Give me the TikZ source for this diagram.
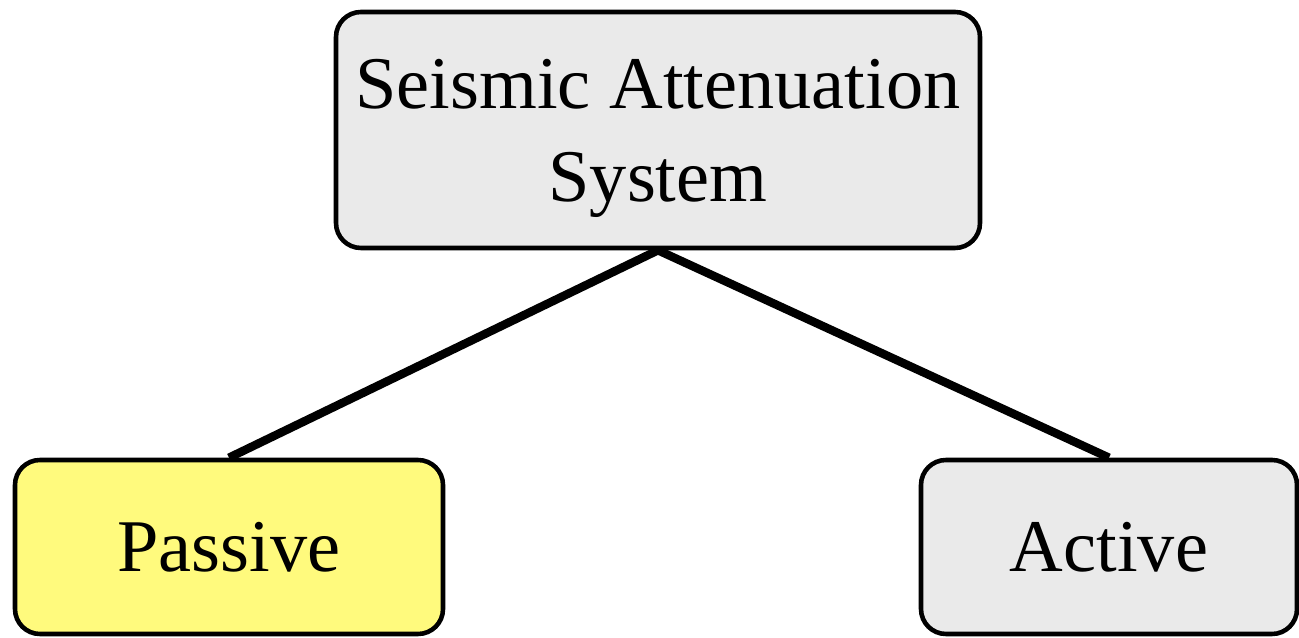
\documentclass[tikz,border=0pt]{standalone}
\usepackage{fontspec}
\setmainfont{Liberation Serif}
\usepackage{tikz}
\usetikzlibrary{positioning,calc}
\definecolor{boxgray}{RGB}{234,234,234}
\definecolor{boxyellow}{RGB}{255,250,125}

\tikzset{
  catbox/.style={draw=black,line width=2.6pt,rounded corners=0.5cm,
    inner sep=0pt,align=center,font=\fontsize{42.3}{52.9}\selectfont},
  link/.style={line width=4.8pt}
}

\begin{document}
\begin{tikzpicture}
\useasboundingbox (0,0) rectangle (25.98,12.76);
% Top level
\node[catbox,fill=boxgray,minimum width=12.88cm,minimum height=4.72cm,text depth=0pt] (sas) at (13.16,10.16) {Seismic Attenuation\\System};
% Two kinds
\node[catbox,fill=boxyellow,minimum width=8.56cm,minimum height=3.48cm] (passive) at (4.58,1.82) {Passive};
\node[catbox,fill=boxgray,minimum width=7.52cm,minimum height=3.48cm] (active) at (22.18,1.82) {Active};
\draw[link] (sas.south) -- (passive.north);
\draw[link] (sas.south) -- (active.north);
\end{tikzpicture}
\end{document}
